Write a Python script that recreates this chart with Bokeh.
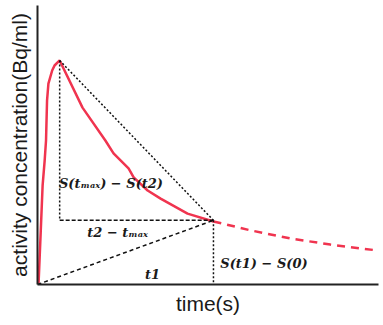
from bokeh.plotting import figure
from bokeh.models import Range1d, Label, FixedTicker
from bokeh.embed import file_html
from bokeh.resources import INLINE

# measured curve (time in arbitrary units, activity in arbitrary units)
t_meas = [0.3, 0.9, 1.5, 2.1, 2.5, 2.8, 3.2, 4.3, 5.0, 6.5, 13.2, 19.9, 22.3, 26.7, 28.2, 32.3, 36.1, 44.0, 51.6]
a_meas = [0.0, 17.6, 35.5, 44.4, 51.6, 65.9, 72.0, 76.7, 78.5, 80.3, 63.4, 51.6, 47.0, 41.6, 38.4, 33.7, 30.8, 25.4, 22.6]
# extrapolated tail
t_tail = [51.6, 62.5, 74.2, 85.9, 99.7]
a_tail = [22.6, 19.4, 16.5, 14.3, 12.2]

t_max, s_max = 6.5, 80.3
t1, s_t1 = 51.6, 23.0

x_title = "time(s)"
y_title = "activity concentration(Bq/ml)"

p = figure(width=383, height=325, output_backend="svg", toolbar_location=None,
           x_range=Range1d(0, 100), y_range=Range1d(0, 100),
           min_border_left=37, min_border_right=5, min_border_top=5, min_border_bottom=41)
p.grid.visible = False
p.outline_line_color = None
p.background_fill_color = "white"

for ax in (p.xaxis, p.yaxis):
    ax.ticker = FixedTicker(ticks=[])
    ax.major_tick_line_color = None
    ax.minor_tick_line_color = None
    ax.major_label_standoff = 0
    ax.major_tick_out = 0
    ax.major_tick_in = 0
    ax.axis_line_width = 2
    ax.axis_line_color = "#222222"
    ax.axis_label_text_font = "Liberation Sans"
    ax.axis_label_text_font_style = "normal"
    ax.axis_label_text_font_size = "21px"
    ax.axis_label_text_color = "#1a1a1a"
p.xaxis.axis_label = x_title
p.yaxis.axis_label = y_title
p.xaxis.axis_label_standoff = 7
p.yaxis.axis_label_standoff = 7

red = "#f0344f"
p.line(t_meas, a_meas, line_color=red, line_width=2.5)
p.line(t_tail, a_tail, line_color=red, line_width=2.5, line_dash="8 6")

blk = "#111111"
p.line([t_max, t_max], [s_max, s_t1], line_color=blk, line_width=1.5, line_dash="2 2")
p.line([t_max, t1], [s_t1, s_t1], line_color=blk, line_width=1.5, line_dash="4 2")
p.line([t_max, t1], [s_max, s_t1], line_color=blk, line_width=1.5, line_dash="2 2")
p.line([0, t1], [0, s_t1], line_color=blk, line_width=1.5, line_dash="4 3")
p.line([t1, t1], [s_t1, 0], line_color=blk, line_width=1.5, line_dash="2 2")

font = "DejaVu Serif"
def lab(x, y, txt, size="13px", align="center"):
    p.add_layout(Label(x=x, y=y, text=txt, text_font=font, text_font_style="bold italic",
                       text_font_size=size, text_align=align, text_baseline="middle",
                       text_color="#1a1a1a"))

lab(6.3, 36.2, "S(tₘₐₓ) − S(t2)", "13px", "left")
lab(23.5, 18.6, "t2 − tₘₐₓ", "13px")
lab(33.7, 3.6, "t1", "13px")
lab(53.6, 7.5, "S(t1) − S(0)", "13px", "left")

open("out.html", "w").write(file_html(p, INLINE))
